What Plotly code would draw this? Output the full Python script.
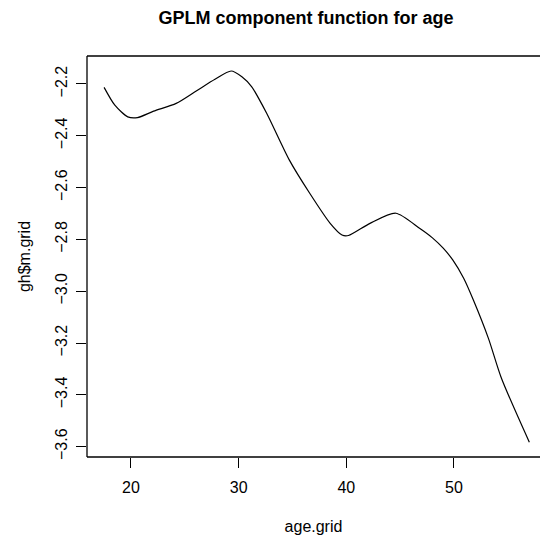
import plotly.graph_objects as go

# Data
age_grid = [17.5, 18.5, 19.7, 20.6, 22.1, 24.2, 26.1, 27.8, 29.3, 30.3,
            31.2, 32.6, 34.7, 36.6, 38.5, 39.6, 40.2, 42.2, 44.6, 46.8, 48.0,
            49.0, 49.9, 50.9, 51.8, 53.2, 54.4, 57.0]
m_grid = [-2.213, -2.282, -2.327, -2.330, -2.305, -2.275, -2.226,
          -2.182, -2.150, -2.172, -2.210, -2.313, -2.493, -2.622, -2.738,
          -2.783, -2.785, -2.738, -2.699, -2.757, -2.794, -2.834, -2.880,
          -2.950, -3.034, -3.182, -3.335, -3.583]

x_ticks = [20, 30, 40, 50]
y_ticks = [-2.2, -2.4, -2.6, -2.8, -3.0, -3.2, -3.4, -3.6]
y_tick_labels = ["\u22122.2", "\u22122.4", "\u22122.6", "\u22122.8",
                 "\u22123.0", "\u22123.2", "\u22123.4", "\u22123.6"]

FONT = "Liberation Sans, Arial, Helvetica, sans-serif"

fig = go.Figure()
fig.add_trace(go.Scatter(x=age_grid, y=m_grid, mode="lines",
                         line=dict(color="black", width=1.2, shape="spline",
                                   smoothing=0.7),
                         showlegend=False, hoverinfo="skip"))

W, H = 540, 535
box = dict(type="line", xref="paper", yref="paper",
           line=dict(color="black", width=1.3), layer="above")
fig.update_layout(
    width=W, height=H,
    margin=dict(l=87, r=0, t=56, b=78),
    paper_bgcolor="white", plot_bgcolor="white",
    font=dict(family=FONT, color="black", size=16),
    title=dict(text="<b>GPLM component function for age</b>",
               x=306 / W, xanchor="center", xref="container",
               y=1 - 18 / H, yanchor="middle", yref="container",
               font=dict(size=18, family=FONT, color="black")),
    shapes=[
        dict(box, x0=0, x1=0, y0=0, y1=1),
        dict(box, x0=0, x1=1, y0=1, y1=1),
        dict(box, x0=0, x1=1, y0=0, y1=0),
    ],
)
fig.update_xaxes(range=[15.914, 57.99], showgrid=False, zeroline=False,
                 showline=False,
                 ticks="outside", ticklen=10, tickcolor="black", tickwidth=1,
                 tickvals=x_ticks, ticktext=[str(v) for v in x_ticks],
                 tickfont=dict(size=16), ticklabelstandoff=6,
                 title=dict(text="age.grid", font=dict(size=16), standoff=28))
fig.update_yaxes(range=[-3.640, -2.092], showgrid=False, zeroline=False,
                 showline=False,
                 ticks="outside", ticklen=10, tickcolor="black", tickwidth=1,
                 tickvals=y_ticks, ticktext=y_tick_labels, tickangle=-90,
                 tickfont=dict(size=16), ticklabelstandoff=3,
                 title=dict(text="gh$m.grid", font=dict(size=16), standoff=17))

fig.write_html("out.html", config={"displayModeBar": False},
               post_script="document.body.style.margin='0';document.body.style.overflow='hidden';")
